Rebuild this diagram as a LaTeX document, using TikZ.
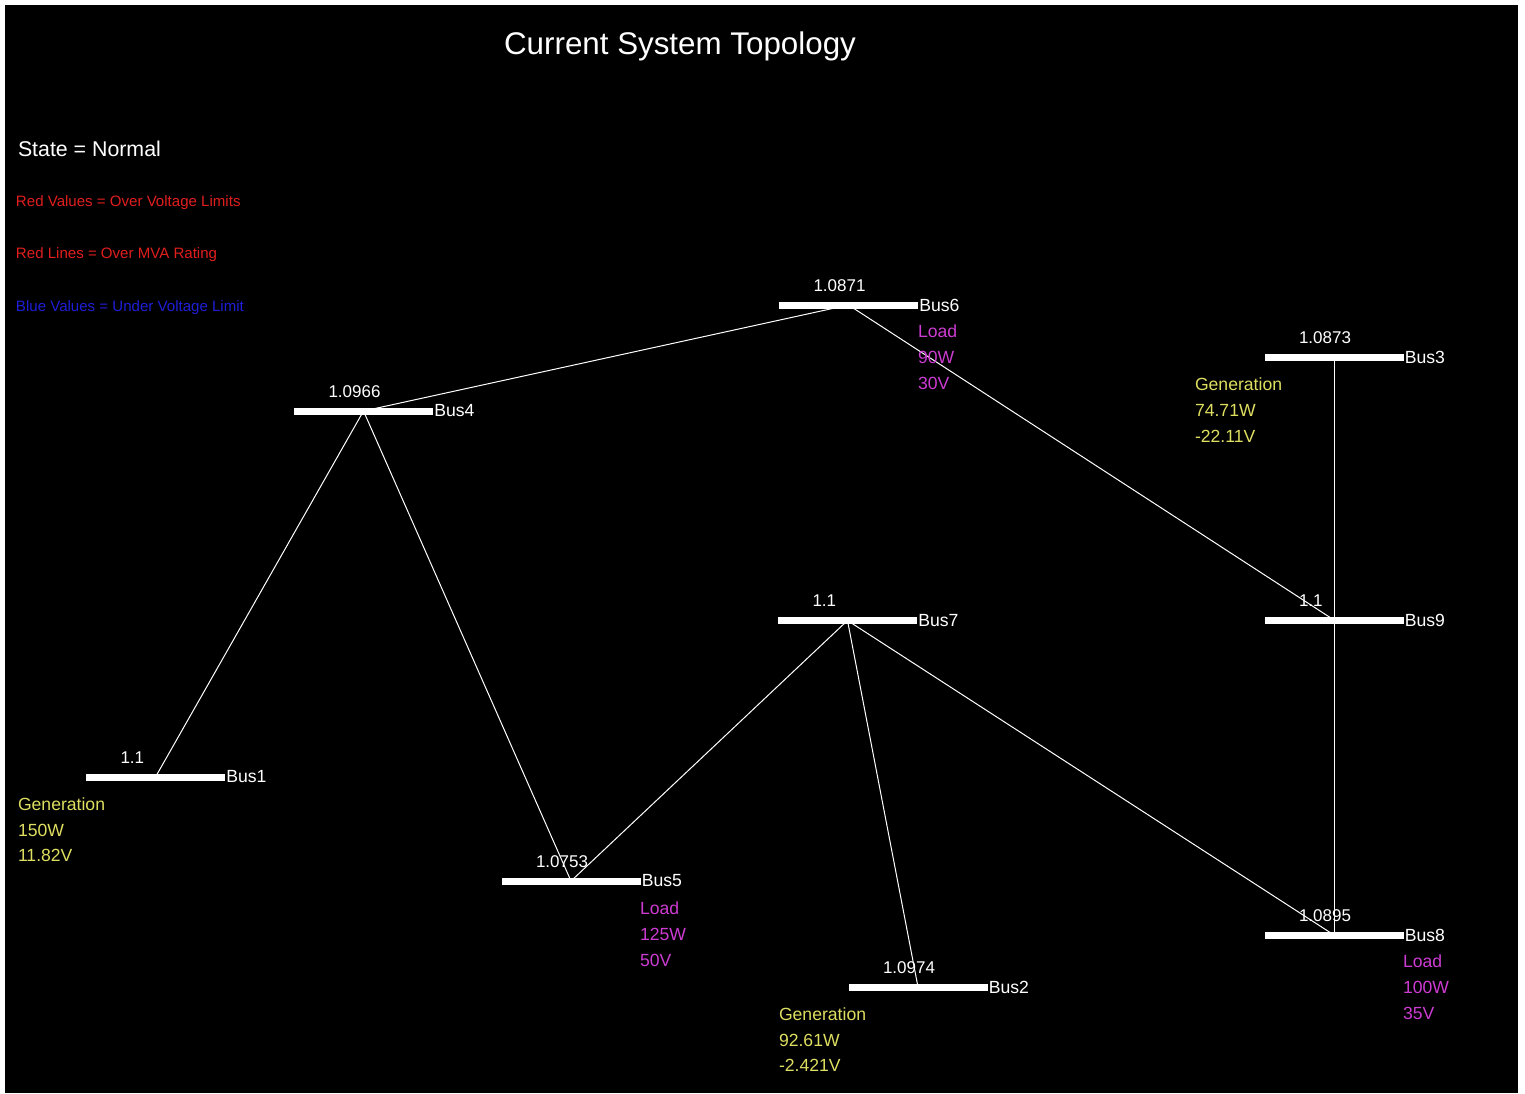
\documentclass[tikz,border=0pt]{standalone}
\usepackage{fontspec}
\setmainfont{Liberation Sans}
\pgfdeclarelayer{canvas}
\pgfdeclarelayer{wires}
\pgfsetlayers{canvas,wires,main}
\definecolor{gentext}{RGB}{222,222,96}
\definecolor{loadtext}{RGB}{205,60,210}
\definecolor{overred}{RGB}{225,30,30}
\definecolor{underblue}{RGB}{30,30,215}
\tikzset{
  busbar/.style={rectangle, fill=white, draw=none, inner sep=0pt,
    minimum width=104.25pt, minimum height=5.25pt},
  wire/.style={draw=white, line width=0.75pt},
  txt/.style={inner sep=0pt, outer sep=0pt, anchor=base west, text=white},
  volt/.style={txt, font=\fontsize{12.75}{15}\selectfont},
  busname/.style={inner sep=0pt, outer sep=0pt, anchor=west, text=white,
    xshift=0.75pt, font=\fontsize{13.2}{15}\selectfont},
  gen/.style={txt, text=gentext, font=\fontsize{13.2}{15}\selectfont},
  load/.style={txt, text=loadtext, font=\fontsize{13.2}{15}\selectfont},
  legend/.style={txt, font=\fontsize{11.3}{13}\selectfont},
}
\begin{document}
\begin{tikzpicture}[x=0.75pt, y=-0.75pt]
\useasboundingbox (0,0) rectangle (1525,1093);
\begin{pgfonlayer}{canvas}
  \fill[white] (0,0) rectangle (1525,1093);
  \fill[black] (5,5) rectangle (1518,1093);
\end{pgfonlayer}

% title and legend
\node[txt, anchor=base, font=\fontsize{23.5}{28}\selectfont] (title) at (680,54) {Current System Topology};
\node[txt, font=\fontsize{16}{19}\selectfont] (state) at (18,156) {State = Normal};
\node[legend, text=overred] (leg1) at (16,206) {Red Values = Over Voltage Limits};
\node[legend, text=overred] (leg2) at (16,258) {Red Lines = Over MVA Rating};
\node[legend, text=underblue] (leg3) at (16,311) {Blue Values = Under Voltage Limit};

% bus bars
\node[busbar] (bus1) at (155.5,777) {};
\node[busbar] (bus4) at (363.5,411) {};
\node[busbar] (bus6) at (848.5,305) {};
\node[busbar] (bus3) at (1334,357) {};
\node[busbar] (bus7) at (847.5,620.5) {};
\node[busbar] (bus9) at (1334,620) {};
\node[busbar] (bus5) at (571,881) {};
\node[busbar] (bus2) at (918,987) {};
\node[busbar] (bus8) at (1334,935) {};

% branches, drawn beneath the bars
\begin{pgfonlayer}{wires}
  \draw[wire] (bus4.center) -- (bus6.center);
  \draw[wire] (bus4.center) -- (bus1.center);
  \draw[wire] (bus4.center) -- (bus5.center);
  \draw[wire] (bus6.center) -- (bus9.center);
  \draw[wire] (bus7.center) -- (bus5.center);
  \draw[wire] (bus7.center) -- (bus2.center);
  \draw[wire] (bus7.center) -- (bus8.center);
  \draw[wire] (bus3.center) -- (bus9.center);
  \draw[wire] (bus9.center) -- (bus8.center);
\end{pgfonlayer}

% bus names
\node[busname] (n1) at (bus1.east) {Bus1};
\node[busname] (n4) at (bus4.east) {Bus4};
\node[busname] (n6) at (bus6.east) {Bus6};
\node[busname] (n3) at (bus3.east) {Bus3};
\node[busname] (n7) at (bus7.east) {Bus7};
\node[busname] (n9) at (bus9.east) {Bus9};
\node[busname] (n5) at (bus5.east) {Bus5};
\node[busname] (n2) at (bus2.east) {Bus2};
\node[busname] (n8) at (bus8.east) {Bus8};

% bus voltages
\node[volt] (v1) at (120.5,763) {1.1};
\node[volt] (v4) at (328.5,397) {1.0966};
\node[volt] (v6) at (813.5,291) {1.0871};
\node[volt] (v3) at (1299,343) {1.0873};
\node[volt] (v7) at (812.5,606.5) {1.1};
\node[volt] (v9) at (1299,606) {1.1};
\node[volt] (v5) at (536,867) {1.0753};
\node[volt] (v2) at (883,973) {1.0974};
\node[volt] (v8) at (1299,921) {1.0895};

% generators
\node[gen] (g1a) at (18,810) {Generation};
\node[gen] (g1b) at (18,836) {150W};
\node[gen] (g1c) at (18,861) {11.82V};
\node[gen] (g3a) at (1195,390) {Generation};
\node[gen] (g3b) at (1195,416) {74.71W};
\node[gen] (g3c) at (1195,442) {-22.11V};
\node[gen] (g2a) at (779,1020) {Generation};
\node[gen] (g2b) at (779,1046) {92.61W};
\node[gen] (g2c) at (779,1071) {-2.421V};

% loads
\node[load] (l6a) at (918,337) {Load};
\node[load] (l6b) at (918,363) {90W};
\node[load] (l6c) at (918,389) {30V};
\node[load] (l5a) at (640,914) {Load};
\node[load] (l5b) at (640,940) {125W};
\node[load] (l5c) at (640,966) {50V};
\node[load] (l8a) at (1403,967) {Load};
\node[load] (l8b) at (1403,993) {100W};
\node[load] (l8c) at (1403,1019) {35V};
\end{tikzpicture}
\end{document}
